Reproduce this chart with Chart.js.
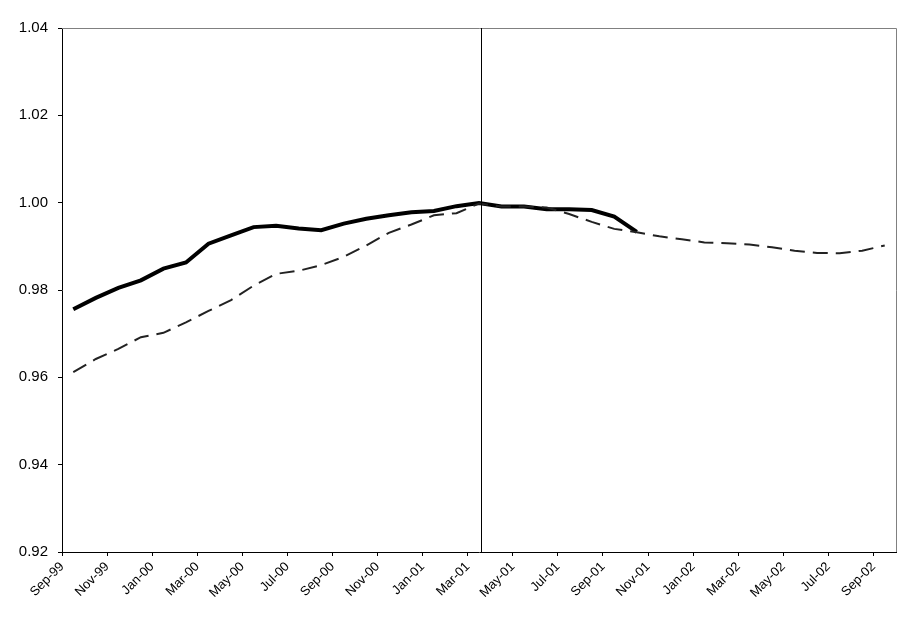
<!DOCTYPE html>
<html>
<head>
<meta charset="utf-8">
<script src="https://cdn.jsdelivr.net/npm/chart.js@4/dist/chart.umd.min.js"></script>
<style>
  html, body { margin: 0; padding: 0; background: #fff; }
  #wrap { width: 911px; height: 623px; }
</style>
</head>
<body>
<div id="wrap"><canvas id="chart" width="911" height="623"></canvas></div>
<script>
// Month categories on the axis (Sep-99 .. Oct-02)
const months = [
  "Sep-99", "Oct-99", "Nov-99", "Dec-99", "Jan-00", "Feb-00", "Mar-00", "Apr-00",
  "May-00", "Jun-00", "Jul-00", "Aug-00", "Sep-00", "Oct-00", "Nov-00", "Dec-00",
  "Jan-01", "Feb-01", "Mar-01", "Apr-01", "May-01", "Jun-01", "Jul-01", "Aug-01",
  "Sep-01", "Oct-01", "Nov-01", "Dec-01", "Jan-02", "Feb-02", "Mar-02", "Apr-02",
  "May-02", "Jun-02", "Jul-02", "Aug-02", "Sep-02", "Oct-02"
];

// Solid series: Sep-99 .. Oct-01
const solidValues = [
  0.9756, 0.9782, 0.9805, 0.9822, 0.9849, 0.9863, 0.9906, 0.9925,
  0.9944, 0.9947, 0.9941, 0.9937, 0.9952, 0.9963, 0.9971, 0.9978,
  0.9981, 0.9992, 0.9999, 0.9991, 0.9991, 0.9985, 0.9985, 0.9983,
  0.9968, 0.9933
];

// Dashed series: Sep-99 .. Sep-02
const dashedValues = [
  0.9612, 0.9642, 0.9665, 0.9692, 0.9702, 0.9726, 0.9752, 0.9777,
  0.9810, 0.9837, 0.9844, 0.9857, 0.9876, 0.9902, 0.9931, 0.9950,
  0.9971, 0.9976, 0.9998, 0.9991, 0.9991, 0.9989, 0.9974, 0.9956,
  0.9940, 0.9932, 0.9923, 0.9916, 0.9909, 0.9907, 0.9904, 0.9898,
  0.9890, 0.9885, 0.9884, 0.9890, 0.9902
];

// where the vertical marker sits (in months from Sep-99)
const breakMonth = 18.58;

const yTicks = { min: 0.92, max: 1.04, step: 0.02 };

// values are plotted mid-month
const toPoints = (vals) => vals.map((v, i) => ({ x: i + 0.5, y: v }));

const frameAndMarker = {
  id: "frameAndMarker",
  afterDatasetsDraw(chart) {
    const { ctx, chartArea: a, scales } = chart;
    ctx.save();
    // gray top/right border
    ctx.strokeStyle = "#808080";
    ctx.lineWidth = 1;
    ctx.beginPath();
    ctx.moveTo(a.left, a.top + 0.5);
    ctx.lineTo(a.right + 0.5, a.top + 0.5);
    ctx.lineTo(a.right + 0.5, a.bottom);
    ctx.stroke();
    // vertical marker line
    const x = Math.round(scales.x.getPixelForValue(breakMonth)) + 0.5;
    ctx.strokeStyle = "#000";
    ctx.beginPath();
    ctx.moveTo(x, a.top);
    ctx.lineTo(x, a.bottom);
    ctx.stroke();
    ctx.restore();
  }
};

const font = { family: "'Liberation Sans', Arial, sans-serif" };

new Chart(document.getElementById("chart"), {
  type: "line",
  data: {
    datasets: [
      {
        data: toPoints(dashedValues),
        borderColor: "#222",
        borderWidth: 2,
        borderDash: [15, 8],
        pointRadius: 0,
        tension: 0
      },
      {
        data: toPoints(solidValues),
        borderColor: "#000",
        borderWidth: 4,
        pointRadius: 0,
        tension: 0
      }
    ]
  },
  options: {
    responsive: false,
    animation: false,
    devicePixelRatio: 1,
    layout: { padding: { top: 28, right: 15, left: 0, bottom: 0 } },
    plugins: { legend: { display: false }, tooltip: { enabled: false } },
    scales: {
      x: {
        type: "linear",
        min: 0,
        max: months.length - 1,
        afterBuildTicks: (s) => {
          s.ticks = [];
          for (let i = 0; i < months.length - 1; i += 2) s.ticks.push({ value: i });
        },
        afterFit: (s) => { s.height = 71; },
        grid: { drawOnChartArea: false, color: "#000", tickLength: 4 },
        border: { color: "#000", width: 1 },
        ticks: {
          autoSkip: false,
          maxRotation: 45,
          minRotation: 45,
          padding: 3,
          color: "#000",
          font: { ...font, size: 13 },
          callback: (v) => months[v]
        }
      },
      y: {
        min: yTicks.min,
        max: yTicks.max,
        afterFit: (s) => { s.width = 62; },
        grid: { drawOnChartArea: false, color: "#000", tickLength: 4 },
        border: { color: "#000", width: 1 },
        ticks: {
          stepSize: yTicks.step,
          padding: 10,
          color: "#000",
          font: { ...font, size: 15 },
          callback: (v) => v.toFixed(2)
        }
      }
    }
  },
  plugins: [frameAndMarker]
});
</script>
</body>
</html>
